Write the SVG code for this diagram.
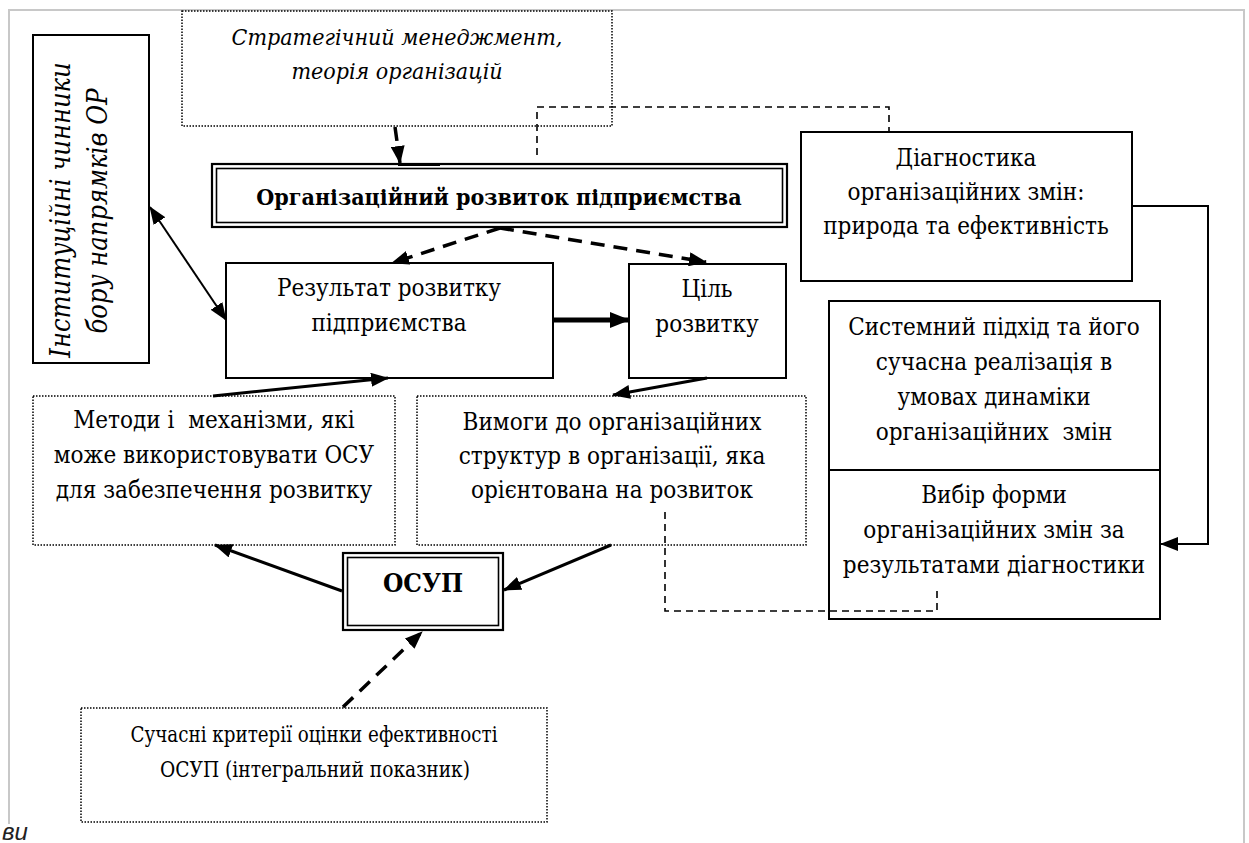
<svg xmlns="http://www.w3.org/2000/svg" width="1249" height="843" viewBox="0 0 1249 843">
  <style>
    .t { font-family: 'DejaVu Serif Condensed', 'DejaVu Serif', serif; font-stretch: condensed; font-size: 24px; fill: #000; text-anchor: middle; }
    .i { font-style: italic; font-size: 23px; }
    .b { font-weight: bold; font-size: 23px; }
    .rot { font-size: 27px; }
    .big { font-size: 26px; }
    .sm { font-size: 23px; }
    .box { fill: #fff; stroke: #000; stroke-width: 2; }
    .dot { fill: #fff; stroke: #000; stroke-width: 1.5; stroke-dasharray: 1.5 1.5; }
    .dbl { fill: none; stroke: #000; }
    .solid { fill: none; stroke: #000; stroke-width: 3; }
    .thin { fill: none; stroke: #000; stroke-width: 2; }
    .dash { fill: none; stroke: #000; stroke-width: 3.5; stroke-dasharray: 14 9; }
    .link { fill: none; stroke: #000; stroke-width: 1.6; stroke-dasharray: 7 5; }
  </style>
  <defs>
    <marker id="ah" viewBox="0 0 18 14" markerWidth="18" markerHeight="14" refX="17" refY="7" orient="auto-start-reverse" markerUnits="userSpaceOnUse">
      <path d="M0,0 L18,7 L0,14 Z" fill="#000"/>
    </marker>
    <marker id="ahBig" viewBox="0 0 20 16" markerWidth="20" markerHeight="16" refX="19" refY="8" orient="auto" markerUnits="userSpaceOnUse">
      <path d="M0,0 L20,8 L0,16 Z" fill="#000"/>
    </marker>
  </defs>

  <rect width="1249" height="843" fill="#fff"/>

  <!-- page frame -->
  <g id="frame" fill="none" stroke="#c8c8c8" stroke-width="2">
    <path d="M9,824 V10 H1244 V843"/>
  </g>

  <!-- left vertical block -->
  <g id="institutional">
    <rect class="box" x="33" y="35" width="116" height="328"/>
    <text class="t i rot" transform="translate(70,210) rotate(-90)">Інституційні чинники</text>
    <text class="t i rot" transform="translate(107,211) rotate(-90)">бору напрямків ОР</text>
  </g>

  <g id="strategic">
    <rect class="dot" x="182" y="11" width="430" height="115"/>
    <text class="t i" x="397" y="45">Стратегічний менеджмент,</text>
    <text class="t i" x="397" y="79">теорія організацій</text>
  </g>

  <g id="org-development">
    <rect class="dbl" x="212" y="164" width="575" height="63" stroke-width="2.2"/>
    <rect class="dbl" x="216.5" y="168.5" width="566" height="54" stroke-width="1.6"/>
    <text class="t b" x="499" y="205">Організаційний розвиток підприємства</text>
  </g>

  <g id="diagnostics">
    <rect class="box" x="801" y="132" width="331" height="149"/>
    <text class="t" x="966" y="166">Діагностика</text>
    <text class="t" x="966" y="200">організаційних змін:</text>
    <text class="t" x="966" y="234">природа та ефективність</text>
  </g>

  <g id="result">
    <rect class="box" x="226" y="263" width="327" height="115"/>
    <text class="t" x="389" y="296">Результат розвитку</text>
    <text class="t" x="389" y="331">підприємства</text>
  </g>

  <g id="goal">
    <rect class="box" x="629" y="264" width="157" height="114"/>
    <text class="t" x="707" y="297">Ціль</text>
    <text class="t" x="707" y="332">розвитку</text>
  </g>

  <g id="systems">
    <rect class="box" x="829" y="301" width="331" height="318"/>
    <line x1="829" y1="470" x2="1160" y2="470" stroke="#000" stroke-width="2"/>
    <text class="t" x="994" y="335">Системний підхід та його</text>
    <text class="t" x="994" y="370">сучасна реалізація в</text>
    <text class="t" x="994" y="405">умовах динаміки</text>
    <text class="t" x="994" y="440" xml:space="preserve">організаційних  змін</text>
    <text class="t" x="994" y="503">Вибір форми</text>
    <text class="t" x="994" y="538">організаційних змін за</text>
    <text class="t" x="994" y="573">результатами діагностики</text>
  </g>

  <g id="methods">
    <rect class="dot" x="33" y="396" width="362" height="149"/>
    <text class="t" x="214" y="428" xml:space="preserve">Методи і  механізми, які</text>
    <text class="t" x="214" y="463">може використовувати ОСУ</text>
    <text class="t" x="214" y="498">для забезпечення розвитку</text>
  </g>

  <g id="requirements">
    <rect class="dot" x="417" y="396" width="389" height="149"/>
    <text class="t" x="612" y="430">Вимоги до організаційних</text>
    <text class="t" x="612" y="464">структур в організації, яка</text>
    <text class="t" x="612" y="498">орієнтована на розвиток</text>
  </g>

  <g id="osup">
    <rect class="dbl" x="343" y="553" width="160" height="77" stroke-width="2.2"/>
    <rect class="dbl" x="347.5" y="557.5" width="151" height="68" stroke-width="1.6"/>
    <text class="t b big" x="423" y="592">ОСУП</text>
  </g>

  <g id="criteria">
    <rect class="dot" x="81" y="708" width="466" height="114"/>
    <text class="t sm" x="314" y="742" textLength="367" lengthAdjust="spacingAndGlyphs">Сучасні критерії оцінки ефективності</text>
    <text class="t sm" x="315" y="777" textLength="310" lengthAdjust="spacingAndGlyphs">ОСУП (інтегральний показник)</text>
  </g>

  <!-- connectors -->
  <g id="connectors">
    <line class="dash" x1="395" y1="127" x2="400" y2="163" marker-end="url(#ah)"/>
    <line x1="398" y1="165" x2="440" y2="165" stroke="#000" stroke-width="2"/>
    <line class="dash" x1="500" y1="228" x2="392" y2="263" marker-end="url(#ah)"/>
    <line class="dash" x1="500" y1="228" x2="706" y2="262" marker-end="url(#ah)"/>
    <polyline class="link" points="537,155 537,107 889,107 889,131"/>
    <polyline class="thin" points="1132,206 1208,206 1208,544 1161,544" marker-end="url(#ah)"/>
    <line class="thin" x1="150" y1="207" x2="226" y2="320" marker-start="url(#ah)" marker-end="url(#ah)"/>
    <line class="solid" x1="213" y1="396" x2="388" y2="378" marker-end="url(#ah)"/>
    <line x1="553" y1="320" x2="629" y2="320" stroke="#000" stroke-width="5" marker-end="url(#ahBig)"/>
    <line class="solid" x1="707" y1="378" x2="613" y2="395" marker-end="url(#ah)"/>
    <line class="solid" x1="342" y1="591" x2="215" y2="545" marker-end="url(#ah)"/>
    <line class="solid" x1="611" y1="545" x2="504" y2="590" marker-end="url(#ah)"/>
    <line class="dash" x1="343" y1="707" x2="422" y2="632" marker-end="url(#ah)"/>
    <polyline class="link" points="665,512 665,611 937,611 937,590"/>
  </g>

  <text x="2" y="840" style="font-family: 'Liberation Sans', Arial, sans-serif; font-style: italic; font-size: 24px; fill: #222;">ви</text>
</svg>
